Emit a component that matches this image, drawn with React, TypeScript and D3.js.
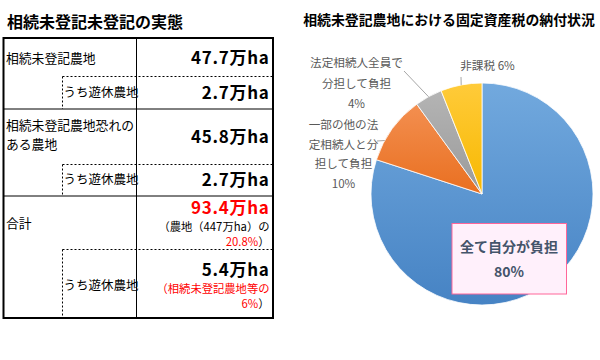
// @ts-nocheck
import React from 'react'
import * as d3 from 'd3'

// left table
const tableTitle = '相続未登記未登記の実態'
const rowLabels = [['相続未登記農地'], ['相続未登記農地恐れの', 'ある農地'], ['合計']]
const rowValues = ['47.7万ha', '45.8万ha', '93.4万ha']
const subLabel = 'うち遊休農地'
const subValues = ['2.7万ha', '2.7万ha', '5.4万ha']

// right pie
const pieTitle = '相続未登記農地における固定資産税の納付状況'
const categories = ['全て自分が負担', '一部の他の法定相続人と分担して負担', '法定相続人全員で分担して負担', '非課税']
const shares = [80, 10, 4, 6]
const sliceColors = [
  ['#72a9de', '#4683c4'],
  ['#f38f50', '#e96f20'],
  ['#b4b4b4', '#9a9a9a'],
  ['#ffcb3a', '#f7b800'],
]

const FONT = '"Noto Sans CJK JP", "Noto Sans", sans-serif'

const cx = 482
const cy = 194
const radius = 111

const Table = () => {
  const L = 3.5
  const R = 273
  const mid = 136.5
  const sub = 62.5
  const valX = 269.5
  const dotted = [
    [76.5, 109],
    [164.5, 196],
    [249.5, 318],
  ]
  return (
    <g fontFamily={FONT}>
      <text x={7} y={22} dy="0.35em" fontSize={16} fontWeight="bold" fill="#000">
        {tableTitle}
      </text>
      {/* grid */}
      <line x1={mid} x2={mid} y1={38} y2={318} stroke="#000" strokeWidth={1} />
      <line x1={L} x2={R} y1={109} y2={109} stroke="#000" strokeWidth={1} />
      <line x1={L} x2={R} y1={196} y2={196} stroke="#000" strokeWidth={1} />
      {dotted.map(([y, y2], i) => (
        <g key={i}>
          <line x1={sub} x2={R} y1={y} y2={y} stroke="#000" strokeWidth={1} strokeDasharray="2,2" />
          <line x1={sub} x2={sub} y1={y} y2={y2} stroke="#000" strokeWidth={1} strokeDasharray="2,2" />
        </g>
      ))}
      <rect x={L} y={38} width={R - L} height={280} fill="none" stroke="#000" strokeWidth={2} />

      {/* row 1 */}
      <text x={6} y={58.5} dy="0.35em" fontSize={12.8}>{rowLabels[0][0]}</text>
      <text x={valX} y={58.5} dy="0.35em" fontSize={17} fontWeight="bold" textAnchor="end" letterSpacing={0.7}>
        {rowValues[0]}
      </text>
      <text x={63.5} y={93} dy="0.35em" fontSize={12.5}>{subLabel}</text>
      <text x={valX} y={93} dy="0.35em" fontSize={17} fontWeight="bold" textAnchor="end" letterSpacing={0.7}>
        {subValues[0]}
      </text>

      {/* row 2 */}
      <text x={6} y={126} dy="0.35em" fontSize={12.8}>{rowLabels[1][0]}</text>
      <text x={6} y={145} dy="0.35em" fontSize={12.8}>{rowLabels[1][1]}</text>
      <text x={valX} y={137} dy="0.35em" fontSize={17} fontWeight="bold" textAnchor="end" letterSpacing={0.7}>
        {rowValues[1]}
      </text>
      <text x={63.5} y={180} dy="0.35em" fontSize={12.5}>{subLabel}</text>
      <text x={valX} y={180} dy="0.35em" fontSize={17} fontWeight="bold" textAnchor="end" letterSpacing={0.7}>
        {subValues[1]}
      </text>

      {/* total */}
      <text x={6} y={223.5} dy="0.35em" fontSize={12.8}>{rowLabels[2][0]}</text>
      <text x={valX} y={208.5} dy="0.35em" fontSize={17} fontWeight="bold" textAnchor="end" fill="#ff0000" letterSpacing={0.7}>
        {rowValues[2]}
      </text>
      <text x={valX} y={227.5} dy="0.35em" fontSize={11.3} textAnchor="end" fill="#000">
        （農地（447万ha）の
      </text>
      <text x={valX} y={242.5} dy="0.35em" fontSize={11.3} textAnchor="end" fill="#000">
        <tspan fill="#ff0000">20.8%</tspan>）
      </text>
      <text x={63.5} y={286} dy="0.35em" fontSize={12.5}>{subLabel}</text>
      <text x={valX} y={270} dy="0.35em" fontSize={17} fontWeight="bold" textAnchor="end" letterSpacing={0.7}>
        {subValues[2]}
      </text>
      <text x={valX} y={289.5} dy="0.35em" fontSize={11.3} textAnchor="end" fill="#ff0000">
        （相続未登記農地等の
      </text>
      <text x={valX} y={304.5} dy="0.35em" fontSize={11.3} textAnchor="end" fill="#000">
        <tspan fill="#ff0000">6%</tspan>）
      </text>
    </g>
  )
}

const Pie = () => {
  const pie = d3.pie().sort(null).value((d) => d)
  const arcs = pie(shares)
  const arc = d3.arc().innerRadius(0).outerRadius(radius)
  const onArc = (a) => [cx + radius * Math.sin(a), cy - radius * Math.cos(a)]
  const midA = (d) => (d.startAngle + d.endAngle) / 2

  const grayPt = onArc(midA(arcs[2]))
  const yellowPt = onArc(midA(arcs[3]))
  const orangePt = onArc(arcs[1].startAngle + (arcs[1].endAngle - arcs[1].startAngle) * 0.3)

  const labelColor = '#595959'
  const fs = 11.6
  return (
    <g fontFamily={FONT}>
      <defs>
        {sliceColors.map((c, i) => (
          <linearGradient key={i} id={`g${i}`} x1="0" y1="0" x2="0" y2="1">
            <stop offset="0%" stopColor={c[0]} />
            <stop offset="100%" stopColor={c[1]} />
          </linearGradient>
        ))}
      </defs>
      <text x={449} y={20} dy="0.35em" fontSize={13.9} fontWeight="bold" textAnchor="middle" fill="#000">
        {pieTitle}
      </text>
      <g transform={`translate(${cx},${cy})`}>
        {arcs.map((d, i) => (
          <path key={i} d={arc(d)} fill={`url(#g${i})`} stroke="#fff" strokeWidth={0.8} />
        ))}
      </g>

      {/* leader lines */}
      <polyline points={`${grayPt[0]},${grayPt[1]} 404,71`} fill="none" stroke="#a6a6a6" strokeWidth={1} />
      <polyline points={`${yellowPt[0]},${yellowPt[1]} 461,77`} fill="none" stroke="#a6a6a6" strokeWidth={1} />
      <polyline points={`${orangePt[0]},${orangePt[1]} 377,141`} fill="none" stroke="#a6a6a6" strokeWidth={1} />

      {/* labels */}
      <text x={487.5} y={66} dy="0.35em" fontSize={fs} textAnchor="middle" fill={labelColor}>
        {categories[3]} {shares[3]}%
      </text>
      {['法定相続人全員で', '分担して負担', `${shares[2]}%`].map((t, i) => (
        <text key={t} x={356.5} y={63 + i * 20.5} dy="0.35em" fontSize={fs} textAnchor="middle" fill={labelColor}>
          {t}
        </text>
      ))}
      {['一部の他の法', '定相続人と分', '担して負担', `${shares[1]}%`].map((t, i) => (
        <text key={t} x={343.5} y={125 + i * 19.6} dy="0.35em" fontSize={fs} textAnchor="middle" fill={labelColor}>
          {t}
        </text>
      ))}

      {/* callout box for main slice */}
      <rect x={452} y={223.5} width={114.5} height={70.5} fill="#fff0fb" stroke="#ff6699" strokeWidth={1} />
      <text x={509} y={247} dy="0.35em" fontSize={14} fontWeight="bold" textAnchor="middle" fill="#44546a">
        {categories[0]}
      </text>
      <text x={509} y={272} dy="0.35em" fontSize={14} fontWeight="bold" textAnchor="middle" fill="#44546a">
        {shares[0]}%
      </text>
    </g>
  )
}

export default function App() {
  return (
    <svg width={600} height={360} style={{ position: 'absolute', left: 0, top: 0, background: '#fff' }}>
      <rect width={600} height={360} fill="#fff" />
      <Table />
      <Pie />
    </svg>
  )
}
